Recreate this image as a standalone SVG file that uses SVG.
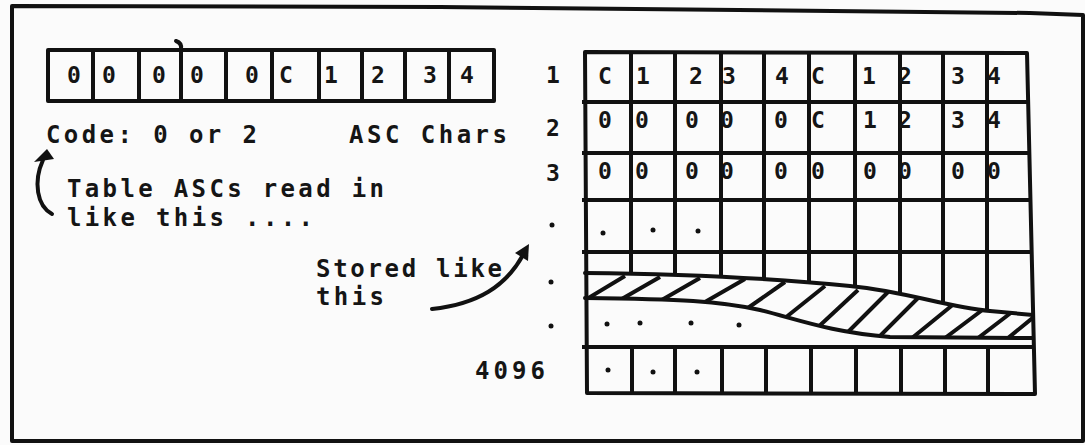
<svg xmlns="http://www.w3.org/2000/svg" width="1085" height="445" viewBox="0 0 1085 445">
<style>
.ln{fill:none;stroke:#111;stroke-width:4;stroke-linecap:round;stroke-linejoin:round}
.hl{fill:none;stroke:#111;stroke-width:4;stroke-linecap:butt}
.t{font-family:"DejaVu Sans Mono","Liberation Mono",monospace;font-weight:bold;font-size:24px;fill:#151515}
.g{font-family:"DejaVu Sans Mono","Liberation Mono",monospace;font-weight:bold;font-size:23px;fill:#151515;text-anchor:middle}
.dot{fill:#111}
</style>
<defs>
<clipPath id="bandClip"><path d="M585,273 C680,274 780,279 850,286 C910,292 945,307 990,311 L1033,315 L1033,338 L890,337 C830,332 800,320 760,310 C720,301 680,299 585,298 Z"/></clipPath>
</defs>
<rect width="1085" height="445" fill="#fbfbfb"/>
<g id="frame">
<path class="ln" d="M12,441 L12,6 L440,7 L1030,13 L1083,15 L1083,441 Z"/>
</g>
<g id="input-array">
<path class="ln" d="M48,50 L494,50 L494,101 L48,101 Z"/>
<path class="hl" d="M93,50V101 M139,50V101 M181,50V101 M226,50V101 M272,50V101 M319,50V101 M362,50V101 M405,50V101 M449,50V101"/>
<path class="ln" d="M176,41 Q182,43 181,49" stroke-width="2"/>
<g class="g">
<text x="74" y="83">0</text><text x="109" y="83">0</text><text x="159" y="83">0</text><text x="197" y="83">0</text><text x="252" y="83">0</text><text x="286" y="83">C</text><text x="331" y="83">1</text><text x="378" y="83">2</text><text x="430" y="83">3</text><text x="467" y="83">4</text>
</g>
</g>
<g id="labels">
<text class="t" x="46" y="143" textLength="211" lengthAdjust="spacing">Code: 0 or 2</text>
<text class="t" x="349" y="143" textLength="158" lengthAdjust="spacing">ASC Chars</text>
<text class="t" x="67" y="197" textLength="317" lengthAdjust="spacing">Table ASCs read in</text>
<text class="t" x="67" y="226" textLength="246" lengthAdjust="spacing">like this ....</text>
<text class="t" x="316" y="277" textLength="186" lengthAdjust="spacing">Stored like</text>
<text class="t" x="316" y="305" textLength="68" lengthAdjust="spacing">this</text>
<text class="t" x="475" y="379" textLength="70" lengthAdjust="spacing">4096</text>
</g>
<g id="row-labels">
<text class="g" x="553" y="83">1</text>
<text class="g" x="553" y="136">2</text>
<text class="g" x="553" y="181">3</text>
<circle class="dot" cx="552" cy="225" r="2.5"/>
<circle class="dot" cx="551" cy="282" r="2.5"/>
<circle class="dot" cx="551" cy="326" r="2.5"/>
</g>
<g id="table-grid">
<path class="ln" d="M585,52 L1027,53 L1035,394 L587,393 Z"/>
<path class="hl" d="M582,102H1028 M582,153H1029 M582,200H1030 M582,252H1031 M582,347H1034"/>
<path class="hl" d="M631,52V274 M675,52V275 M721,52V277 M764,52V280 M809,52V283 M855,53V287 M900,53V293 M943,53V302 M987,53V310"/>
<path class="hl" d="M632,347V393 M675,347V393 M722,347V393 M766,347V393 M811,347V393 M856,347V393 M901,347V394 M945,347V394 M988,347V394"/>
<g class="g">
<text x="605" y="84">C</text><text x="643" y="84">1</text><text x="696" y="84">2</text><text x="729" y="84">3</text><text x="782" y="84">4</text><text x="818" y="84">C</text><text x="869" y="84">1</text><text x="905" y="84">2</text><text x="958" y="84">3</text><text x="994" y="84">4</text>
<text x="605" y="128">0</text><text x="642" y="128">0</text><text x="692" y="128">0</text><text x="727" y="128">0</text><text x="781" y="128">0</text><text x="818" y="128">C</text><text x="870" y="128">1</text><text x="905" y="128">2</text><text x="958" y="128">3</text><text x="994" y="128">4</text>
<text x="605" y="179">0</text><text x="642" y="179">0</text><text x="692" y="179">0</text><text x="727" y="179">0</text><text x="781" y="179">0</text><text x="818" y="179">0</text><text x="870" y="179">0</text><text x="905" y="179">0</text><text x="958" y="179">0</text><text x="994" y="179">0</text>
</g>
<circle class="dot" cx="603" cy="233" r="2.5"/><circle class="dot" cx="653" cy="230" r="2.5"/><circle class="dot" cx="698" cy="231" r="2.5"/>
<circle class="dot" cx="607" cy="324" r="2.5"/><circle class="dot" cx="640" cy="323" r="2.5"/><circle class="dot" cx="691" cy="323" r="2.5"/><circle class="dot" cx="739" cy="325" r="2.5"/>
<circle class="dot" cx="608" cy="370" r="2.5"/><circle class="dot" cx="653" cy="372" r="2.5"/><circle class="dot" cx="697" cy="372" r="2.5"/>
</g>
<g id="hatched-band">
<g clip-path="url(#bandClip)">
<path class="hl" d="M585,300 L625,276 M620,300 L660,277 M660,301 L700,278 M705,302 L745,279 M745,310 L785,282 M780,322 L825,286 M815,330 L858,290 M845,335 L888,292 M878,338 L920,296 M912,338 L955,303 M945,338 L985,308 M978,338 L1012,312 M1008,338 L1040,312"/>
</g>
<path class="ln" d="M585,273 C680,274 780,279 850,286 C910,292 945,307 990,311 L1033,315"/>
<path class="ln" d="M585,298 C680,299 720,301 760,310 C800,320 830,332 890,337 L1033,338"/>
</g>
<g id="connectors">
<path class="ln" d="M432,309 C478,304 506,286 523,255"/>
<polygon class="dot" points="515,253 529,244 528,261"/>
<path class="ln" d="M52,214 C37,206 33,182 43,160"/>
<polygon class="dot" points="34,162 47,149 54,159"/>
</g>
</svg>
